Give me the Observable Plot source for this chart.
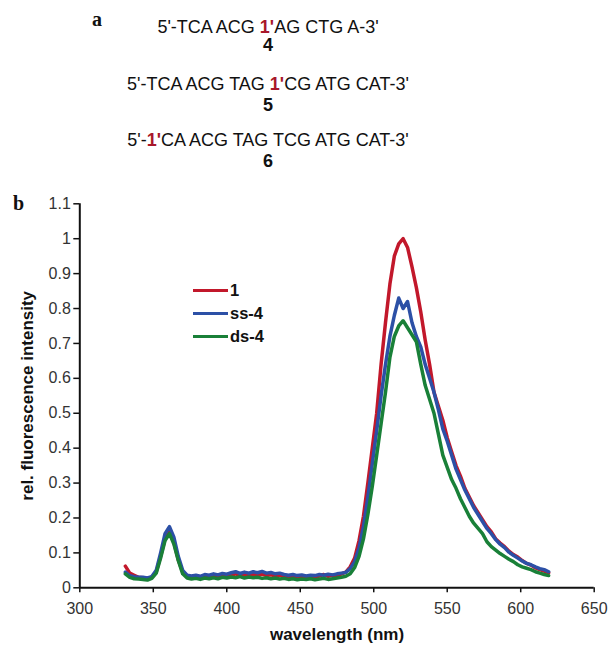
<!DOCTYPE html>
<html>
<head>
<meta charset="utf-8">
<script src="https://cdn.jsdelivr.net/npm/d3@7"></script>
<script src="https://cdn.jsdelivr.net/npm/@observablehq/plot@0.6"></script>
<style>
  html, body { margin: 0; padding: 0; background: #fff; }
  #wrap { position: relative; width: 610px; height: 646px; font-family: "Liberation Sans", Arial, sans-serif; color: #111; }
  .seq { position: absolute; left: 0; width: 536px; text-align: center; font-size: 18px; line-height: 18px; white-space: pre; }
  .num { font-weight: bold; }
  .mark1 { color: #a8172a; font-weight: bold; }
  .panel { position: absolute; font-family: "Liberation Serif", "Times New Roman", serif; font-weight: bold; font-size: 20px; line-height: 20px; z-index: 2; }
  #chart { position: absolute; left: 0; top: 190px; }
  #legend { position: absolute; left: 193px; top: 279px; }
  .lg { display: flex; align-items: center; height: 23px; font-weight: bold; font-size: 16.5px; }
  .lg span.sw { display: inline-block; width: 35px; height: 3.5px; margin-right: 2px; }
</style>
</head>
<body>
<div id="wrap">
  <div class="panel" style="left:92px; top:9px;">a</div>
  <div class="panel" style="left:13px; top:193px;">b</div>
  <div id="seqs"></div>
  <div id="chart"></div>
  <div id="legend"></div>
</div>
<script>
// ---- Panel a: sequences ----
const seqParts = [
  ["5'-TCA ACG ", "1'", "AG CTG A-3'"],
  ["5'-TCA ACG TAG ", "1'", "CG ATG CAT-3'"],
  ["5'-", "1'", "CA ACG TAG TCG ATG CAT-3'"]
];
const seqNumbers = ["4", "5", "6"];

// ---- Panel b: data ----
const wavelength = [331,334,337,340,343,346,349,352,355,358,361,364,367,370,373,376,379,382,385,388,391,394,397,400,403,406,409,412,415,418,421,424,427,430,433,436,439,442,445,448,451,454,457,460,463,466,469,472,475,478,481,484,487,490,493,496,499,502,505,508,511,514,517,520,523,526,529,532,535,538,541,544,547,550,553,556,559,562,565,568,571,574,577,580,583,586,589,592,595,598,601,604,607,610,613,616,619];

const series1 = [0.062,0.042,0.036,0.030,0.029,0.027,0.030,0.045,0.090,0.140,0.160,0.130,0.080,0.045,0.032,0.030,0.032,0.030,0.033,0.031,0.034,0.032,0.035,0.033,0.036,0.040,0.034,0.037,0.035,0.038,0.036,0.039,0.035,0.037,0.034,0.036,0.033,0.031,0.033,0.030,0.032,0.030,0.033,0.031,0.034,0.038,0.033,0.036,0.034,0.040,0.045,0.060,0.085,0.135,0.205,0.300,0.400,0.500,0.640,0.760,0.870,0.950,0.985,1.000,0.975,0.920,0.860,0.790,0.710,0.640,0.560,0.520,0.480,0.430,0.390,0.350,0.320,0.285,0.260,0.235,0.215,0.195,0.175,0.160,0.140,0.128,0.118,0.105,0.095,0.088,0.078,0.070,0.065,0.057,0.052,0.048,0.043];

const seriesSS4 = [0.045,0.035,0.032,0.030,0.030,0.028,0.032,0.050,0.100,0.155,0.175,0.145,0.090,0.050,0.036,0.034,0.036,0.033,0.038,0.036,0.040,0.037,0.041,0.039,0.043,0.046,0.041,0.045,0.042,0.046,0.043,0.047,0.042,0.044,0.040,0.042,0.038,0.036,0.038,0.035,0.037,0.034,0.036,0.035,0.038,0.036,0.039,0.037,0.040,0.042,0.044,0.055,0.075,0.115,0.175,0.260,0.355,0.450,0.550,0.640,0.720,0.780,0.830,0.800,0.820,0.760,0.720,0.690,0.640,0.600,0.560,0.510,0.455,0.420,0.380,0.340,0.310,0.280,0.255,0.230,0.210,0.190,0.170,0.155,0.138,0.125,0.115,0.102,0.093,0.085,0.077,0.070,0.066,0.060,0.055,0.052,0.046];

const seriesDS4 = [0.040,0.030,0.026,0.025,0.024,0.022,0.027,0.042,0.085,0.135,0.155,0.125,0.078,0.040,0.028,0.025,0.027,0.024,0.028,0.026,0.029,0.026,0.030,0.028,0.031,0.029,0.032,0.028,0.031,0.029,0.030,0.027,0.029,0.026,0.028,0.025,0.027,0.024,0.026,0.023,0.025,0.024,0.026,0.023,0.025,0.027,0.024,0.026,0.028,0.030,0.033,0.040,0.058,0.090,0.140,0.210,0.290,0.380,0.470,0.560,0.660,0.720,0.750,0.765,0.745,0.725,0.705,0.640,0.580,0.540,0.500,0.440,0.380,0.345,0.310,0.285,0.255,0.230,0.205,0.185,0.170,0.155,0.132,0.118,0.108,0.098,0.090,0.082,0.075,0.066,0.060,0.056,0.052,0.046,0.042,0.038,0.035];

const seriesNames = ["1", "ss-4", "ds-4"];
const seriesColors = ["#c2182b", "#2c50a6", "#198038"];
const xTicks = [300, 350, 400, 450, 500, 550, 600, 650];
const yTicks = [0, 0.1, 0.2, 0.3, 0.4, 0.5, 0.6, 0.7, 0.8, 0.9, 1, 1.1];
const yTickLabels = ["0", "0.1", "0.2", "0.3", "0.4", "0.5", "0.6", "0.7", "0.8", "0.9", "1", "1.1"];
const xTitle = "wavelength (nm)";
const yTitle = "rel. fluorescence intensity";

// sequences HTML
const seqTops = [17.7, 75.2, 131.2];
const numTops = [36.2, 96.2, 152.2];
const seqDiv = document.getElementById("seqs");
seqParts.forEach((p, i) => {
  const d = document.createElement("div");
  d.className = "seq";
  d.style.top = seqTops[i] + "px";
  d.innerHTML = `${p[0]}<span class="mark1">${p[1]}</span>${p[2]}`;
  seqDiv.appendChild(d);
  const n = document.createElement("div");
  n.className = "seq num";
  n.style.top = numTops[i] + "px";
  n.textContent = seqNumbers[i];
  seqDiv.appendChild(n);
});

// long table
const allValues = [series1, seriesSS4, seriesDS4];
const rows = [];
allValues.forEach((vals, s) => {
  vals.forEach((v, i) => rows.push({series: seriesNames[s], wl: wavelength[i], v}));
});

const chart = Plot.plot({
  width: 610,
  height: 456,
  marginTop: 13.3,
  marginBottom: 58.7,
  marginLeft: 79.3,
  marginRight: 16.3,
  style: { fontFamily: "'Liberation Sans', Arial, sans-serif", fontSize: "16px", color: "#222", background: "transparent" },
  x: { domain: [300, 650] },
  y: { domain: [0, 1.1] },
  color: { domain: seriesNames, range: seriesColors },
  marks: [
    Plot.line(rows, { x: "wl", y: "v", z: "series", stroke: "series", strokeWidth: 3.5, strokeLinejoin: "round" }),
    Plot.axisX({ ticks: xTicks, tickSize: 5, tickPadding: 10, label: null, tickFormat: d => String(d), fill: "#333", stroke: "#111", strokeWidth: 1.5 }),
    Plot.axisY({ ticks: yTicks, tickSize: 6, tickPadding: 3, label: null, tickFormat: (d, i) => yTickLabels[i], fill: "#333", stroke: "#111", strokeWidth: 1.5 }),
    Plot.ruleX([300], { y1: 0, y2: 1.1, stroke: "#111", strokeWidth: 2 }),
    Plot.ruleY([0], { x1: 300, x2: 650, stroke: "#111", strokeWidth: 2 }),
    Plot.text([xTitle], { frameAnchor: "bottom", lineAnchor: "middle", textAnchor: "middle", dy: 46.7, fontWeight: "bold", fontSize: 17, fill: "#111" }),
    Plot.text([yTitle], { frameAnchor: "left", lineAnchor: "middle", textAnchor: "middle", rotate: -90, dx: -52, fontWeight: "bold", fontSize: 17, fill: "#111" })
  ]
});
document.getElementById("chart").appendChild(chart);

// legend
const lg = document.getElementById("legend");
seriesNames.forEach((name, i) => {
  const row = document.createElement("div");
  row.className = "lg";
  row.innerHTML = `<span class="sw" style="background:${seriesColors[i]}"></span><span>${name}</span>`;
  lg.appendChild(row);
});
</script>
</body>
</html>
